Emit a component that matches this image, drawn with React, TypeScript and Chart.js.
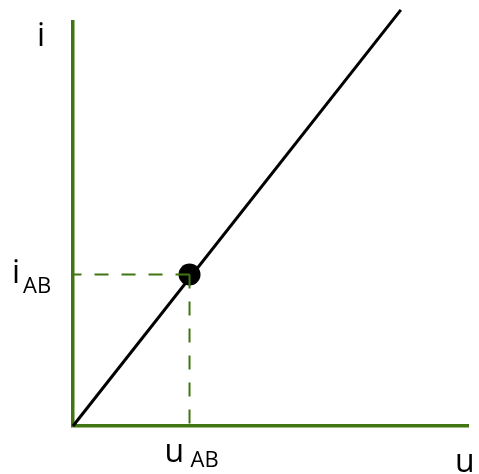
import React, { useEffect, useRef } from "react";
import { Chart, registerables } from "chart.js";

Chart.register(...registerables);

// axis ranges (abstract units)
const xRange = [0, 10];
const yRange = [0, 10];
// characteristic line i = f(u)
const lineU = [0, 8.3];
const lineI = [0, 10.3];
// operating point
const uAB = [2.95];
const iAB = [3.75];
// labels
const axisLabels = { x: "u", y: "i" };
const pointLabelMain = { x: "u", y: "i" };
const pointLabelSub = "AB";

const GREEN = "#417512";
const FONT = "'Open Sans', sans-serif";

const labelPlugin = {
  id: "labels",
  afterDatasetsDraw(chart: any) {
    const { ctx, chartArea, scales } = chart;
    const xs = scales.x;
    const ys = scales.y;
    const px = xs.getPixelForValue(uAB[0]);
    const py = ys.getPixelForValue(iAB[0]);
    ctx.save();
    ctx.fillStyle = "#000";
    ctx.textAlign = "left";
    ctx.textBaseline = "alphabetic";
    const big = `32px ${FONT}`;
    const small = `22px ${FONT}`;
    // y axis label
    ctx.font = big;
    ctx.fillText(axisLabels.y, chartArea.left - 36, chartArea.top + 24);
    // i_AB
    ctx.fillText(pointLabelMain.y, 12, py + 8);
    ctx.font = small;
    ctx.fillText(pointLabelSub, 23, py + 18);
    // u_AB
    ctx.font = big;
    ctx.fillText(pointLabelMain.x, px - 25, chartArea.bottom + 36);
    ctx.font = small;
    ctx.fillText(pointLabelSub, px + 1, chartArea.bottom + 41);
    // x axis label
    ctx.font = big;
    ctx.fillText(axisLabels.x, chartArea.right - 13, chartArea.bottom + 46);
    ctx.restore();
  },
};

export default function App() {
  const ref = useRef<HTMLCanvasElement>(null);
  useEffect(() => {
    if (!ref.current) return;
    const chart = new Chart(ref.current, {
      type: "scatter",
      data: {
        datasets: [
          {
            data: [
              { x: uAB[0], y: iAB[0] },
              { x: xRange[0], y: iAB[0] },
            ],
            showLine: true,
            borderColor: GREEN,
            borderWidth: 2,
            borderDash: [14, 13],
            pointRadius: 0,
          },
          {
            data: [
              { x: uAB[0], y: iAB[0] },
              { x: uAB[0], y: yRange[0] },
            ],
            showLine: true,
            borderColor: GREEN,
            borderWidth: 2,
            borderDash: [14, 13],
            pointRadius: 0,
          },
          {
            data: [{ x: uAB[0], y: iAB[0] }],
            pointRadius: 11,
            backgroundColor: "#000",
            borderColor: "#000",
            borderWidth: 0,
          },
          {
            data: lineU.map((u, k) => ({ x: u, y: lineI[k] })),
            showLine: true,
            borderColor: "#000",
            borderWidth: 3,
            pointRadius: 0,
            clip: false as any,
          },
        ],
      },
      options: {
        animation: false,
        responsive: false,
        maintainAspectRatio: false,
        layout: { padding: { left: 65, top: 22, right: 1, bottom: 40 } },
        plugins: { legend: { display: false }, tooltip: { enabled: false } },
        scales: {
          x: {
            type: "linear",
            min: xRange[0],
            max: xRange[1],
            grid: { display: false },
            ticks: { display: false },
            border: { display: true, color: GREEN, width: 3.5 },
          },
          y: {
            type: "linear",
            min: yRange[0],
            max: yRange[1],
            grid: { display: false },
            ticks: { display: false },
            border: { display: true, color: GREEN, width: 3.5 },
          },
        },
      },
      plugins: [labelPlugin],
    });
    return () => chart.destroy();
  }, []);
  return (
    <div style={{ position: "fixed", left: 0, top: 0, width: 479, height: 474, background: "#fff" }}>
      <canvas ref={ref} width={479} height={474} style={{ width: 479, height: 474 }} />
    </div>
  );
}
